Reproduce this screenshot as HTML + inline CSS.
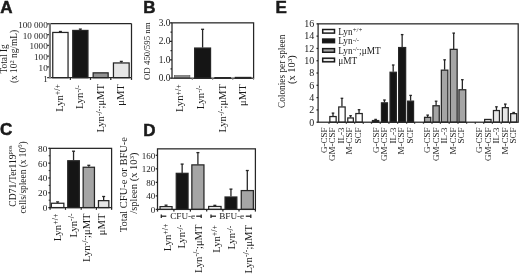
<!DOCTYPE html>
<html><head><meta charset="utf-8"><style>
html,body{margin:0;padding:0;background:#fff;width:520px;height:276px;overflow:hidden}
svg{display:block;filter:blur(0.35px)}
text{fill:#1a1a1a;stroke:#1a1a1a;stroke-width:0px}
</style></head><body>
<svg width="520" height="276" viewBox="0 0 520 276">
<text x="0.30" y="13.10" font-family='"Liberation Sans", sans-serif' font-size="17" font-weight="bold" text-anchor="start" style="stroke-width:0.5px">A</text>
<text x="143.20" y="13.10" font-family='"Liberation Sans", sans-serif' font-size="17" font-weight="bold" text-anchor="start" style="stroke-width:0.5px">B</text>
<text x="275.60" y="13.10" font-family='"Liberation Sans", sans-serif' font-size="17" font-weight="bold" text-anchor="start" style="stroke-width:0.5px">E</text>
<text x="0.00" y="135.20" font-family='"Liberation Sans", sans-serif' font-size="17" font-weight="bold" text-anchor="start" style="stroke-width:0.5px">C</text>
<text x="143.20" y="135.60" font-family='"Liberation Sans", sans-serif' font-size="17" font-weight="bold" text-anchor="start" style="stroke-width:0.5px">D</text>
<rect x="52.75" y="32.45" width="15.30" height="45.25" fill="#ffffff" stroke="#262626" stroke-width="1.25"/>
<line x1="60.40" y1="32.00" x2="60.40" y2="31.50" stroke="#262626" stroke-width="1.3"/>
<line x1="58.90" y1="31.50" x2="61.90" y2="31.50" stroke="#262626" stroke-width="1.3"/>
<rect x="72.75" y="30.45" width="15.20" height="47.25" fill="#151515" stroke="#262626" stroke-width="1.25"/>
<line x1="80.35" y1="30.00" x2="80.35" y2="29.10" stroke="#262626" stroke-width="1.3"/>
<line x1="78.85" y1="29.10" x2="81.85" y2="29.10" stroke="#262626" stroke-width="1.3"/>
<rect x="93.15" y="72.85" width="15.00" height="4.85" fill="#929292" stroke="#262626" stroke-width="1.25"/>
<rect x="113.45" y="62.95" width="15.70" height="14.75" fill="#e6e6e6" stroke="#262626" stroke-width="1.25"/>
<line x1="121.30" y1="62.50" x2="121.30" y2="61.40" stroke="#262626" stroke-width="1.3"/>
<line x1="119.80" y1="61.40" x2="122.80" y2="61.40" stroke="#262626" stroke-width="1.3"/>
<line x1="48.90" y1="23.55" x2="131.50" y2="23.55" stroke="#262626" stroke-width="1.25"/>
<line x1="131.50" y1="23.55" x2="131.50" y2="77.70" stroke="#262626" stroke-width="1.25"/>
<line x1="48.90" y1="77.70" x2="131.50" y2="77.70" stroke="#262626" stroke-width="1.25"/>
<line x1="70.40" y1="77.70" x2="70.40" y2="79.90" stroke="#262626" stroke-width="1.25"/>
<line x1="90.50" y1="77.70" x2="90.50" y2="79.90" stroke="#262626" stroke-width="1.25"/>
<line x1="110.80" y1="77.70" x2="110.80" y2="79.90" stroke="#262626" stroke-width="1.25"/>
<line x1="131.50" y1="77.70" x2="131.50" y2="79.90" stroke="#262626" stroke-width="1.25"/>
<line x1="49.95" y1="22.95" x2="49.95" y2="78.30" stroke="#7a7a7a" stroke-width="2.1"/>
<line x1="47.20" y1="77.60" x2="48.90" y2="77.60" stroke="#262626" stroke-width="1.25"/>
<text x="47.70" y="81.60" font-family='"Liberation Serif", serif' font-size="9.1" font-weight="normal" text-anchor="end">1</text>
<line x1="47.20" y1="66.84" x2="48.90" y2="66.84" stroke="#262626" stroke-width="1.25"/>
<text x="47.70" y="70.84" font-family='"Liberation Serif", serif' font-size="9.1" font-weight="normal" text-anchor="end">10</text>
<line x1="47.20" y1="56.08" x2="48.90" y2="56.08" stroke="#262626" stroke-width="1.25"/>
<text x="47.70" y="60.08" font-family='"Liberation Serif", serif' font-size="9.1" font-weight="normal" text-anchor="end">100</text>
<line x1="47.20" y1="45.32" x2="48.90" y2="45.32" stroke="#262626" stroke-width="1.25"/>
<text x="47.70" y="49.32" font-family='"Liberation Serif", serif' font-size="9.1" font-weight="normal" text-anchor="end">1000</text>
<line x1="47.20" y1="34.56" x2="48.90" y2="34.56" stroke="#262626" stroke-width="1.25"/>
<text x="47.70" y="38.56" font-family='"Liberation Serif", serif' font-size="9.1" font-weight="normal" text-anchor="end">10 000</text>
<line x1="47.20" y1="23.80" x2="48.90" y2="23.80" stroke="#262626" stroke-width="1.25"/>
<text x="47.70" y="27.80" font-family='"Liberation Serif", serif' font-size="9.1" font-weight="normal" text-anchor="end">100 000</text>
<text x="7.20" y="58.90" font-family='"Liberation Serif", serif' font-size="9.3" font-weight="normal" text-anchor="middle" transform="rotate(-90 7.20 58.90)">Total Ig</text>
<text x="17.20" y="56.50" font-family='"Liberation Serif", serif' font-size="9.4" font-weight="normal" text-anchor="middle" transform="rotate(-90 17.20 56.50)">(x 10<tspan font-size="6.5" dy="-3.2">2</tspan><tspan dy="3.2"> ng/mL)</tspan></text>
<text x="62.80" y="84.00" font-family='"Liberation Serif", serif' font-size="10.6" font-weight="normal" text-anchor="end" transform="rotate(-90 62.80 84.00)">Lyn<tspan font-size="8.0" dy="-2.6">+/+</tspan></text>
<text x="83.20" y="85.00" font-family='"Liberation Serif", serif' font-size="10.6" font-weight="normal" text-anchor="end" transform="rotate(-90 83.20 85.00)">Lyn<tspan font-size="8.0" dy="-2.6">-/-</tspan></text>
<text x="104.20" y="84.00" font-family='"Liberation Serif", serif' font-size="10.6" font-weight="normal" text-anchor="end" transform="rotate(-90 104.20 84.00)">Lyn<tspan font-size="8.0" dy="-2.6">-/-</tspan><tspan dy="2.6">;μMT</tspan></text>
<text x="124.20" y="84.20" font-family='"Liberation Serif", serif' font-size="10.6" font-weight="normal" text-anchor="end" transform="rotate(-90 124.20 84.20)">μMT</text>
<rect x="174.3" y="75.6" width="15.6" height="2.4" fill="#8c8c8c" stroke="#555" stroke-width="0.6"/>
<rect x="194.65" y="48.05" width="15.90" height="30.15" fill="#151515" stroke="#262626" stroke-width="1.25"/>
<line x1="202.60" y1="47.60" x2="202.60" y2="29.30" stroke="#262626" stroke-width="1.3"/>
<line x1="201.10" y1="29.30" x2="204.10" y2="29.30" stroke="#262626" stroke-width="1.3"/>
<rect x="214.95" y="77.65" width="15.40" height="0.55" fill="#c8c8c8" stroke="#262626" stroke-width="1.25"/>
<rect x="235.35" y="77.45" width="15.50" height="0.75" fill="#c8c8c8" stroke="#262626" stroke-width="1.25"/>
<rect x="172.00" y="22.85" width="81.60" height="55.35" fill="none" stroke="#262626" stroke-width="1.25"/>
<line x1="192.30" y1="78.20" x2="192.30" y2="80.00" stroke="#888" stroke-width="1.0"/>
<line x1="212.70" y1="78.20" x2="212.70" y2="80.00" stroke="#888" stroke-width="1.0"/>
<line x1="232.80" y1="78.20" x2="232.80" y2="80.00" stroke="#888" stroke-width="1.0"/>
<line x1="253.60" y1="78.20" x2="253.60" y2="80.00" stroke="#888" stroke-width="1.0"/>
<line x1="170.00" y1="78.20" x2="172.00" y2="78.20" stroke="#262626" stroke-width="1.25"/>
<text x="170.40" y="81.30" font-family='"Liberation Serif", serif' font-size="9.4" font-weight="normal" text-anchor="end">0.0</text>
<line x1="170.50" y1="68.98" x2="172.00" y2="68.98" stroke="#262626" stroke-width="1.25"/>
<line x1="170.00" y1="59.75" x2="172.00" y2="59.75" stroke="#262626" stroke-width="1.25"/>
<text x="170.40" y="62.85" font-family='"Liberation Serif", serif' font-size="9.4" font-weight="normal" text-anchor="end">1.0</text>
<line x1="170.50" y1="50.52" x2="172.00" y2="50.52" stroke="#262626" stroke-width="1.25"/>
<line x1="170.00" y1="41.30" x2="172.00" y2="41.30" stroke="#262626" stroke-width="1.25"/>
<text x="170.40" y="44.40" font-family='"Liberation Serif", serif' font-size="9.4" font-weight="normal" text-anchor="end">2.0</text>
<line x1="170.50" y1="32.08" x2="172.00" y2="32.08" stroke="#262626" stroke-width="1.25"/>
<line x1="170.00" y1="22.85" x2="172.00" y2="22.85" stroke="#262626" stroke-width="1.25"/>
<text x="170.40" y="25.95" font-family='"Liberation Serif", serif' font-size="9.4" font-weight="normal" text-anchor="end">3.0</text>
<text x="150.50" y="51.20" font-family='"Liberation Serif", serif' font-size="8.9" font-weight="normal" text-anchor="middle" transform="rotate(-90 150.50 51.20)">OD 450/595 nm</text>
<text x="183.40" y="84.30" font-family='"Liberation Serif", serif' font-size="10.6" font-weight="normal" text-anchor="end" transform="rotate(-90 183.40 84.30)">Lyn<tspan font-size="8.0" dy="-2.6">+/+</tspan></text>
<text x="204.30" y="85.30" font-family='"Liberation Serif", serif' font-size="10.6" font-weight="normal" text-anchor="end" transform="rotate(-90 204.30 85.30)">Lyn<tspan font-size="8.0" dy="-2.6">-/-</tspan></text>
<text x="226.20" y="84.00" font-family='"Liberation Serif", serif' font-size="10.6" font-weight="normal" text-anchor="end" transform="rotate(-90 226.20 84.00)">Lyn<tspan font-size="8.0" dy="-2.6">-/-</tspan><tspan dy="2.6">;μMT</tspan></text>
<text x="245.60" y="84.30" font-family='"Liberation Serif", serif' font-size="10.6" font-weight="normal" text-anchor="end" transform="rotate(-90 245.60 84.30)">μMT</text>
<rect x="51.35" y="203.25" width="12.50" height="4.35" fill="#ffffff" stroke="#262626" stroke-width="1.25"/>
<line x1="57.60" y1="202.80" x2="57.60" y2="201.90" stroke="#262626" stroke-width="1.3"/>
<line x1="56.10" y1="201.90" x2="59.10" y2="201.90" stroke="#262626" stroke-width="1.3"/>
<rect x="67.75" y="160.75" width="11.60" height="46.85" fill="#151515" stroke="#262626" stroke-width="1.25"/>
<line x1="73.55" y1="160.30" x2="73.55" y2="151.20" stroke="#262626" stroke-width="1.3"/>
<line x1="72.05" y1="151.20" x2="75.05" y2="151.20" stroke="#262626" stroke-width="1.3"/>
<rect x="83.15" y="167.25" width="11.30" height="40.35" fill="#a5a5a5" stroke="#262626" stroke-width="1.25"/>
<line x1="88.80" y1="166.80" x2="88.80" y2="165.30" stroke="#262626" stroke-width="1.3"/>
<line x1="87.30" y1="165.30" x2="90.30" y2="165.30" stroke="#262626" stroke-width="1.3"/>
<rect x="98.45" y="200.65" width="10.40" height="6.95" fill="#e6e6e6" stroke="#262626" stroke-width="1.25"/>
<line x1="103.65" y1="200.20" x2="103.65" y2="196.50" stroke="#262626" stroke-width="1.3"/>
<line x1="102.15" y1="196.50" x2="105.15" y2="196.50" stroke="#262626" stroke-width="1.3"/>
<rect x="50.10" y="148.35" width="61.50" height="59.25" fill="none" stroke="#262626" stroke-width="1.25"/>
<line x1="50.10" y1="207.60" x2="50.10" y2="209.80" stroke="#262626" stroke-width="1.25"/>
<line x1="65.50" y1="207.60" x2="65.50" y2="209.80" stroke="#262626" stroke-width="1.25"/>
<line x1="81.20" y1="207.60" x2="81.20" y2="209.80" stroke="#262626" stroke-width="1.25"/>
<line x1="96.40" y1="207.60" x2="96.40" y2="209.80" stroke="#262626" stroke-width="1.25"/>
<line x1="111.60" y1="207.60" x2="111.60" y2="209.80" stroke="#262626" stroke-width="1.25"/>
<line x1="48.30" y1="207.60" x2="50.10" y2="207.60" stroke="#262626" stroke-width="1.25"/>
<text x="47.30" y="211.10" font-family='"Liberation Serif", serif' font-size="9.2" font-weight="normal" text-anchor="end">0</text>
<line x1="48.70" y1="200.19" x2="50.10" y2="200.19" stroke="#262626" stroke-width="1.0"/>
<line x1="48.30" y1="192.79" x2="50.10" y2="192.79" stroke="#262626" stroke-width="1.25"/>
<text x="47.30" y="196.29" font-family='"Liberation Serif", serif' font-size="9.2" font-weight="normal" text-anchor="end">20</text>
<line x1="48.70" y1="185.38" x2="50.10" y2="185.38" stroke="#262626" stroke-width="1.0"/>
<line x1="48.30" y1="177.97" x2="50.10" y2="177.97" stroke="#262626" stroke-width="1.25"/>
<text x="47.30" y="181.47" font-family='"Liberation Serif", serif' font-size="9.2" font-weight="normal" text-anchor="end">40</text>
<line x1="48.70" y1="170.57" x2="50.10" y2="170.57" stroke="#262626" stroke-width="1.0"/>
<line x1="48.30" y1="163.16" x2="50.10" y2="163.16" stroke="#262626" stroke-width="1.25"/>
<text x="47.30" y="166.66" font-family='"Liberation Serif", serif' font-size="9.2" font-weight="normal" text-anchor="end">60</text>
<line x1="48.70" y1="155.76" x2="50.10" y2="155.76" stroke="#262626" stroke-width="1.0"/>
<line x1="48.30" y1="148.35" x2="50.10" y2="148.35" stroke="#262626" stroke-width="1.25"/>
<text x="47.30" y="151.85" font-family='"Liberation Serif", serif' font-size="9.2" font-weight="normal" text-anchor="end">80</text>
<text x="15.70" y="176.00" font-family='"Liberation Serif", serif' font-size="9.6" font-weight="normal" text-anchor="middle" transform="rotate(-90 15.70 176.00)">CD71/Ter119<tspan font-size="6.5" dy="-3.2">pos</tspan></text>
<text x="25.60" y="177.40" font-family='"Liberation Serif", serif' font-size="9.4" font-weight="normal" text-anchor="middle" transform="rotate(-90 25.60 177.40)">cells/spleen (x 10<tspan font-size="6.5" dy="-3.2">6</tspan><tspan dy="3.2">)</tspan></text>
<text x="60.80" y="213.60" font-family='"Liberation Serif", serif' font-size="10.6" font-weight="normal" text-anchor="end" transform="rotate(-90 60.80 213.60)">Lyn<tspan font-size="8.0" dy="-2.6">+/+</tspan></text>
<text x="76.90" y="213.40" font-family='"Liberation Serif", serif' font-size="10.6" font-weight="normal" text-anchor="end" transform="rotate(-90 76.90 213.40)">Lyn<tspan font-size="8.0" dy="-2.6">-/-</tspan></text>
<text x="90.40" y="213.40" font-family='"Liberation Serif", serif' font-size="10.6" font-weight="normal" text-anchor="end" transform="rotate(-90 90.40 213.40)">Lyn<tspan font-size="8.0" dy="-2.6">-/-</tspan><tspan dy="2.6">;μMT</tspan></text>
<text x="105.00" y="213.60" font-family='"Liberation Serif", serif' font-size="10.6" font-weight="normal" text-anchor="end" transform="rotate(-90 105.00 213.60)">μMT</text>
<rect x="160.05" y="206.64" width="12.00" height="2.76" fill="#ffffff" stroke="#262626" stroke-width="1.25"/>
<line x1="166.05" y1="206.19" x2="166.05" y2="205.17" stroke="#262626" stroke-width="1.3"/>
<line x1="164.55" y1="205.17" x2="167.55" y2="205.17" stroke="#262626" stroke-width="1.3"/>
<rect x="176.25" y="173.33" width="11.80" height="36.07" fill="#151515" stroke="#262626" stroke-width="1.25"/>
<line x1="182.15" y1="172.88" x2="182.15" y2="164.09" stroke="#262626" stroke-width="1.3"/>
<line x1="180.65" y1="164.09" x2="183.65" y2="164.09" stroke="#262626" stroke-width="1.3"/>
<rect x="191.85" y="164.88" width="12.10" height="44.52" fill="#a5a5a5" stroke="#262626" stroke-width="1.25"/>
<line x1="197.90" y1="164.43" x2="197.90" y2="152.60" stroke="#262626" stroke-width="1.3"/>
<line x1="196.40" y1="152.60" x2="199.40" y2="152.60" stroke="#262626" stroke-width="1.3"/>
<rect x="208.65" y="206.47" width="12.40" height="2.93" fill="#ffffff" stroke="#262626" stroke-width="1.25"/>
<line x1="214.85" y1="206.02" x2="214.85" y2="205.34" stroke="#262626" stroke-width="1.3"/>
<line x1="213.35" y1="205.34" x2="216.35" y2="205.34" stroke="#262626" stroke-width="1.3"/>
<rect x="225.05" y="197.00" width="11.80" height="12.40" fill="#151515" stroke="#262626" stroke-width="1.25"/>
<line x1="230.95" y1="196.55" x2="230.95" y2="189.11" stroke="#262626" stroke-width="1.3"/>
<line x1="229.45" y1="189.11" x2="232.45" y2="189.11" stroke="#262626" stroke-width="1.3"/>
<rect x="241.25" y="190.58" width="12.10" height="18.82" fill="#a5a5a5" stroke="#262626" stroke-width="1.25"/>
<line x1="247.30" y1="190.13" x2="247.30" y2="170.52" stroke="#262626" stroke-width="1.3"/>
<line x1="245.80" y1="170.52" x2="248.80" y2="170.52" stroke="#262626" stroke-width="1.3"/>
<rect x="157.50" y="148.85" width="97.90" height="60.55" fill="none" stroke="#262626" stroke-width="1.25"/>
<line x1="157.50" y1="209.40" x2="157.50" y2="211.60" stroke="#262626" stroke-width="1.25"/>
<line x1="173.90" y1="209.40" x2="173.90" y2="211.60" stroke="#262626" stroke-width="1.25"/>
<line x1="190.40" y1="209.40" x2="190.40" y2="211.60" stroke="#262626" stroke-width="1.25"/>
<line x1="206.70" y1="209.40" x2="206.70" y2="211.60" stroke="#262626" stroke-width="1.25"/>
<line x1="222.90" y1="209.40" x2="222.90" y2="211.60" stroke="#262626" stroke-width="1.25"/>
<line x1="239.00" y1="209.40" x2="239.00" y2="211.60" stroke="#262626" stroke-width="1.25"/>
<line x1="255.40" y1="209.40" x2="255.40" y2="211.60" stroke="#262626" stroke-width="1.25"/>
<line x1="155.70" y1="209.40" x2="157.50" y2="209.40" stroke="#262626" stroke-width="1.25"/>
<text x="155.20" y="212.60" font-family='"Liberation Serif", serif' font-size="9.0" font-weight="normal" text-anchor="end">0</text>
<line x1="155.70" y1="195.88" x2="157.50" y2="195.88" stroke="#262626" stroke-width="1.25"/>
<text x="155.20" y="199.07" font-family='"Liberation Serif", serif' font-size="9.0" font-weight="normal" text-anchor="end">40</text>
<line x1="155.70" y1="182.35" x2="157.50" y2="182.35" stroke="#262626" stroke-width="1.25"/>
<text x="155.20" y="185.55" font-family='"Liberation Serif", serif' font-size="9.0" font-weight="normal" text-anchor="end">80</text>
<line x1="155.70" y1="168.83" x2="157.50" y2="168.83" stroke="#262626" stroke-width="1.25"/>
<text x="155.20" y="172.03" font-family='"Liberation Serif", serif' font-size="9.0" font-weight="normal" text-anchor="end">120</text>
<line x1="155.70" y1="155.30" x2="157.50" y2="155.30" stroke="#262626" stroke-width="1.25"/>
<text x="155.20" y="158.50" font-family='"Liberation Serif", serif' font-size="9.0" font-weight="normal" text-anchor="end">160</text>
<text x="127.00" y="184.60" font-family='"Liberation Serif", serif' font-size="10.5" font-weight="normal" text-anchor="middle" transform="rotate(-90 127.00 184.60)">Total CFU-e or BFU-e</text>
<text x="137.00" y="183.10" font-family='"Liberation Serif", serif' font-size="10.5" font-weight="normal" text-anchor="middle" transform="rotate(-90 137.00 183.10)">/spleen (x 10<tspan font-size="7" dy="-3.2">3</tspan><tspan dy="3.2">)</tspan></text>
<text x="182.70" y="219.20" font-family='"Liberation Serif", serif' font-size="9.2" font-weight="normal" text-anchor="middle">CFU-e</text>
<line x1="161.30" y1="214.50" x2="161.30" y2="217.90" stroke="#262626" stroke-width="1.3"/>
<line x1="201.20" y1="214.50" x2="201.20" y2="217.90" stroke="#262626" stroke-width="1.3"/>
<line x1="161.30" y1="216.20" x2="166.30" y2="216.20" stroke="#262626" stroke-width="1.3"/>
<line x1="196.20" y1="216.20" x2="201.20" y2="216.20" stroke="#262626" stroke-width="1.3"/>
<text x="231.70" y="219.20" font-family='"Liberation Serif", serif' font-size="9.2" font-weight="normal" text-anchor="middle">BFU-e</text>
<line x1="211.00" y1="214.50" x2="211.00" y2="217.90" stroke="#262626" stroke-width="1.3"/>
<line x1="250.80" y1="214.50" x2="250.80" y2="217.90" stroke="#262626" stroke-width="1.3"/>
<line x1="211.00" y1="216.20" x2="216.00" y2="216.20" stroke="#262626" stroke-width="1.3"/>
<line x1="245.80" y1="216.20" x2="250.80" y2="216.20" stroke="#262626" stroke-width="1.3"/>
<text x="170.50" y="223.50" font-family='"Liberation Serif", serif' font-size="10.6" font-weight="normal" text-anchor="end" transform="rotate(-90 170.50 223.50)">Lyn<tspan font-size="8.0" dy="-2.6">+/+</tspan></text>
<text x="185.30" y="224.50" font-family='"Liberation Serif", serif' font-size="10.6" font-weight="normal" text-anchor="end" transform="rotate(-90 185.30 224.50)">Lyn<tspan font-size="8.0" dy="-2.6">-/-</tspan></text>
<text x="201.50" y="224.50" font-family='"Liberation Serif", serif' font-size="10.6" font-weight="normal" text-anchor="end" transform="rotate(-90 201.50 224.50)">Lyn<tspan font-size="8.0" dy="-2.6">-/-</tspan><tspan dy="2.6">;μMT</tspan></text>
<text x="219.50" y="225.00" font-family='"Liberation Serif", serif' font-size="10.6" font-weight="normal" text-anchor="end" transform="rotate(-90 219.50 225.00)">Lyn<tspan font-size="8.0" dy="-2.6">+/+</tspan></text>
<text x="235.30" y="225.50" font-family='"Liberation Serif", serif' font-size="10.6" font-weight="normal" text-anchor="end" transform="rotate(-90 235.30 225.50)">Lyn<tspan font-size="8.0" dy="-2.6">-/-</tspan></text>
<text x="251.50" y="225.00" font-family='"Liberation Serif", serif' font-size="10.6" font-weight="normal" text-anchor="end" transform="rotate(-90 251.50 225.00)">Lyn<tspan font-size="8.0" dy="-2.6">-/-</tspan><tspan dy="2.6">;μMT</tspan></text>
<rect x="329.85" y="116.55" width="6.30" height="5.65" fill="#ffffff" stroke="#262626" stroke-width="1.25"/>
<line x1="333.00" y1="116.10" x2="333.00" y2="113.10" stroke="#262626" stroke-width="1.3"/>
<line x1="331.70" y1="113.10" x2="334.30" y2="113.10" stroke="#262626" stroke-width="1.3"/>
<rect x="338.75" y="106.95" width="6.40" height="15.25" fill="#ffffff" stroke="#262626" stroke-width="1.25"/>
<line x1="341.95" y1="106.50" x2="341.95" y2="98.30" stroke="#262626" stroke-width="1.3"/>
<line x1="340.65" y1="98.30" x2="343.25" y2="98.30" stroke="#262626" stroke-width="1.3"/>
<rect x="347.75" y="117.95" width="5.60" height="4.25" fill="#ffffff" stroke="#262626" stroke-width="1.25"/>
<line x1="350.55" y1="117.50" x2="350.55" y2="115.70" stroke="#262626" stroke-width="1.3"/>
<line x1="349.25" y1="115.70" x2="351.85" y2="115.70" stroke="#262626" stroke-width="1.3"/>
<rect x="355.85" y="113.55" width="6.40" height="8.65" fill="#ffffff" stroke="#262626" stroke-width="1.25"/>
<line x1="359.05" y1="113.10" x2="359.05" y2="109.70" stroke="#262626" stroke-width="1.3"/>
<line x1="357.75" y1="109.70" x2="360.35" y2="109.70" stroke="#262626" stroke-width="1.3"/>
<rect x="372.45" y="120.55" width="6.30" height="1.65" fill="#151515" stroke="#262626" stroke-width="1.25"/>
<line x1="375.60" y1="120.10" x2="375.60" y2="119.40" stroke="#262626" stroke-width="1.3"/>
<line x1="374.30" y1="119.40" x2="376.90" y2="119.40" stroke="#262626" stroke-width="1.3"/>
<rect x="381.45" y="102.85" width="6.00" height="19.35" fill="#151515" stroke="#262626" stroke-width="1.25"/>
<line x1="384.45" y1="102.40" x2="384.45" y2="100.00" stroke="#262626" stroke-width="1.3"/>
<line x1="383.15" y1="100.00" x2="385.75" y2="100.00" stroke="#262626" stroke-width="1.3"/>
<rect x="390.05" y="72.25" width="6.30" height="49.95" fill="#151515" stroke="#262626" stroke-width="1.25"/>
<line x1="393.20" y1="71.80" x2="393.20" y2="65.00" stroke="#262626" stroke-width="1.3"/>
<line x1="391.90" y1="65.00" x2="394.50" y2="65.00" stroke="#262626" stroke-width="1.3"/>
<rect x="398.65" y="47.55" width="7.00" height="74.65" fill="#151515" stroke="#262626" stroke-width="1.25"/>
<line x1="402.15" y1="47.10" x2="402.15" y2="34.60" stroke="#262626" stroke-width="1.3"/>
<line x1="400.85" y1="34.60" x2="403.45" y2="34.60" stroke="#262626" stroke-width="1.3"/>
<rect x="407.65" y="101.15" width="5.90" height="21.05" fill="#151515" stroke="#262626" stroke-width="1.25"/>
<line x1="410.60" y1="100.70" x2="410.60" y2="95.40" stroke="#262626" stroke-width="1.3"/>
<line x1="409.30" y1="95.40" x2="411.90" y2="95.40" stroke="#262626" stroke-width="1.3"/>
<rect x="424.55" y="117.35" width="6.20" height="4.85" fill="#a5a5a5" stroke="#262626" stroke-width="1.25"/>
<line x1="427.65" y1="116.90" x2="427.65" y2="115.10" stroke="#262626" stroke-width="1.3"/>
<line x1="426.35" y1="115.10" x2="428.95" y2="115.10" stroke="#262626" stroke-width="1.3"/>
<rect x="432.95" y="105.75" width="6.30" height="16.45" fill="#a5a5a5" stroke="#262626" stroke-width="1.25"/>
<line x1="436.10" y1="105.30" x2="436.10" y2="101.20" stroke="#262626" stroke-width="1.3"/>
<line x1="434.80" y1="101.20" x2="437.40" y2="101.20" stroke="#262626" stroke-width="1.3"/>
<rect x="441.35" y="70.15" width="6.50" height="52.05" fill="#a5a5a5" stroke="#262626" stroke-width="1.25"/>
<line x1="444.60" y1="69.70" x2="444.60" y2="59.80" stroke="#262626" stroke-width="1.3"/>
<line x1="443.30" y1="59.80" x2="445.90" y2="59.80" stroke="#262626" stroke-width="1.3"/>
<rect x="450.25" y="49.35" width="6.90" height="72.85" fill="#a5a5a5" stroke="#262626" stroke-width="1.25"/>
<line x1="453.70" y1="48.90" x2="453.70" y2="33.10" stroke="#262626" stroke-width="1.3"/>
<line x1="452.40" y1="33.10" x2="455.00" y2="33.10" stroke="#262626" stroke-width="1.3"/>
<rect x="458.95" y="89.75" width="6.80" height="32.45" fill="#a5a5a5" stroke="#262626" stroke-width="1.25"/>
<line x1="462.35" y1="89.30" x2="462.35" y2="79.70" stroke="#262626" stroke-width="1.3"/>
<line x1="461.05" y1="79.70" x2="463.65" y2="79.70" stroke="#262626" stroke-width="1.3"/>
<rect x="484.65" y="119.45" width="6.40" height="2.75" fill="#e6e6e6" stroke="#262626" stroke-width="1.25"/>
<rect x="493.45" y="110.55" width="6.00" height="11.65" fill="#e6e6e6" stroke="#262626" stroke-width="1.25"/>
<line x1="496.45" y1="110.10" x2="496.45" y2="106.80" stroke="#262626" stroke-width="1.3"/>
<line x1="495.15" y1="106.80" x2="497.75" y2="106.80" stroke="#262626" stroke-width="1.3"/>
<rect x="502.35" y="107.65" width="5.90" height="14.55" fill="#e6e6e6" stroke="#262626" stroke-width="1.25"/>
<line x1="505.30" y1="107.20" x2="505.30" y2="104.10" stroke="#262626" stroke-width="1.3"/>
<line x1="504.00" y1="104.10" x2="506.60" y2="104.10" stroke="#262626" stroke-width="1.3"/>
<rect x="510.65" y="113.65" width="6.00" height="8.55" fill="#e6e6e6" stroke="#262626" stroke-width="1.25"/>
<line x1="513.65" y1="113.20" x2="513.65" y2="112.50" stroke="#262626" stroke-width="1.3"/>
<line x1="512.35" y1="112.50" x2="514.95" y2="112.50" stroke="#262626" stroke-width="1.3"/>
<line x1="329.00" y1="122.20" x2="329.00" y2="123.70" stroke="#262626" stroke-width="1.25"/>
<line x1="337.40" y1="122.20" x2="337.40" y2="123.70" stroke="#262626" stroke-width="1.25"/>
<line x1="346.40" y1="122.20" x2="346.40" y2="123.70" stroke="#262626" stroke-width="1.25"/>
<line x1="354.60" y1="122.20" x2="354.60" y2="123.70" stroke="#262626" stroke-width="1.25"/>
<line x1="363.30" y1="122.20" x2="363.30" y2="123.70" stroke="#262626" stroke-width="1.25"/>
<line x1="371.50" y1="122.20" x2="371.50" y2="123.70" stroke="#262626" stroke-width="1.25"/>
<line x1="380.30" y1="122.20" x2="380.30" y2="123.70" stroke="#262626" stroke-width="1.25"/>
<line x1="388.90" y1="122.20" x2="388.90" y2="123.70" stroke="#262626" stroke-width="1.25"/>
<line x1="397.60" y1="122.20" x2="397.60" y2="123.70" stroke="#262626" stroke-width="1.25"/>
<line x1="406.60" y1="122.20" x2="406.60" y2="123.70" stroke="#262626" stroke-width="1.25"/>
<line x1="414.60" y1="122.20" x2="414.60" y2="123.70" stroke="#262626" stroke-width="1.25"/>
<line x1="423.50" y1="122.20" x2="423.50" y2="123.70" stroke="#262626" stroke-width="1.25"/>
<line x1="432.00" y1="122.20" x2="432.00" y2="123.70" stroke="#262626" stroke-width="1.25"/>
<line x1="440.40" y1="122.20" x2="440.40" y2="123.70" stroke="#262626" stroke-width="1.25"/>
<line x1="449.20" y1="122.20" x2="449.20" y2="123.70" stroke="#262626" stroke-width="1.25"/>
<line x1="458.00" y1="122.20" x2="458.00" y2="123.70" stroke="#262626" stroke-width="1.25"/>
<line x1="466.60" y1="122.20" x2="466.60" y2="123.70" stroke="#262626" stroke-width="1.25"/>
<line x1="475.30" y1="122.20" x2="475.30" y2="123.70" stroke="#262626" stroke-width="1.25"/>
<line x1="483.70" y1="122.20" x2="483.70" y2="123.70" stroke="#262626" stroke-width="1.25"/>
<line x1="492.40" y1="122.20" x2="492.40" y2="123.70" stroke="#262626" stroke-width="1.25"/>
<line x1="501.20" y1="122.20" x2="501.20" y2="123.70" stroke="#262626" stroke-width="1.25"/>
<line x1="509.60" y1="122.20" x2="509.60" y2="123.70" stroke="#262626" stroke-width="1.25"/>
<rect x="318.10" y="23.85" width="200.10" height="98.35" fill="none" stroke="#262626" stroke-width="1.25"/>
<line x1="316.50" y1="122.20" x2="318.10" y2="122.20" stroke="#262626" stroke-width="1.25"/>
<text x="314.30" y="125.50" font-family='"Liberation Serif", serif' font-size="10" font-weight="normal" text-anchor="end">0</text>
<line x1="316.50" y1="109.91" x2="318.10" y2="109.91" stroke="#262626" stroke-width="1.25"/>
<text x="314.30" y="113.21" font-family='"Liberation Serif", serif' font-size="10" font-weight="normal" text-anchor="end">2</text>
<line x1="316.50" y1="97.61" x2="318.10" y2="97.61" stroke="#262626" stroke-width="1.25"/>
<text x="314.30" y="100.91" font-family='"Liberation Serif", serif' font-size="10" font-weight="normal" text-anchor="end">4</text>
<line x1="316.50" y1="85.32" x2="318.10" y2="85.32" stroke="#262626" stroke-width="1.25"/>
<text x="314.30" y="88.62" font-family='"Liberation Serif", serif' font-size="10" font-weight="normal" text-anchor="end">6</text>
<line x1="316.50" y1="73.03" x2="318.10" y2="73.03" stroke="#262626" stroke-width="1.25"/>
<text x="314.30" y="76.33" font-family='"Liberation Serif", serif' font-size="10" font-weight="normal" text-anchor="end">8</text>
<line x1="316.50" y1="60.73" x2="318.10" y2="60.73" stroke="#262626" stroke-width="1.25"/>
<text x="314.30" y="64.03" font-family='"Liberation Serif", serif' font-size="10" font-weight="normal" text-anchor="end">10</text>
<line x1="316.50" y1="48.44" x2="318.10" y2="48.44" stroke="#262626" stroke-width="1.25"/>
<text x="314.30" y="51.74" font-family='"Liberation Serif", serif' font-size="10" font-weight="normal" text-anchor="end">12</text>
<line x1="316.50" y1="36.14" x2="318.10" y2="36.14" stroke="#262626" stroke-width="1.25"/>
<text x="314.30" y="39.44" font-family='"Liberation Serif", serif' font-size="10" font-weight="normal" text-anchor="end">14</text>
<line x1="316.50" y1="23.85" x2="318.10" y2="23.85" stroke="#262626" stroke-width="1.25"/>
<text x="314.30" y="27.15" font-family='"Liberation Serif", serif' font-size="10" font-weight="normal" text-anchor="end">16</text>
<text x="284.80" y="71.30" font-family='"Liberation Serif", serif' font-size="9.3" font-weight="normal" text-anchor="middle" transform="rotate(-90 284.80 71.30)">Colonies per spleen</text>
<text x="295.00" y="69.60" font-family='"Liberation Serif", serif' font-size="10.4" font-weight="normal" text-anchor="middle" transform="rotate(-90 295.00 69.60)">(x 10<tspan font-size="7" dy="-3.2">3</tspan><tspan dy="3.2">)</tspan></text>
<rect x="322.7" y="29.50" width="11.8" height="3.6" fill="#ffffff" stroke="#1a1a1a" stroke-width="1.5"/>
<text x="338.20" y="34.80" font-family='"Liberation Serif", serif' font-size="9.3" font-weight="normal" text-anchor="start">Lyn<tspan font-size="6.8" dy="-2.6">+/+</tspan></text>
<rect x="322.7" y="39.07" width="11.8" height="3.6" fill="#151515" stroke="#1a1a1a" stroke-width="1.5"/>
<text x="338.20" y="44.37" font-family='"Liberation Serif", serif' font-size="9.3" font-weight="normal" text-anchor="start">Lyn<tspan font-size="6.8" dy="-2.6">-/-</tspan></text>
<rect x="322.7" y="48.64" width="11.8" height="3.6" fill="#a5a5a5" stroke="#1a1a1a" stroke-width="1.5"/>
<text x="338.20" y="53.94" font-family='"Liberation Serif", serif' font-size="9.3" font-weight="normal" text-anchor="start">Lyn<tspan font-size="6.8" dy="-2.6">-/-</tspan><tspan dy="2.6">;μMT</tspan></text>
<rect x="322.7" y="58.21" width="11.8" height="3.6" fill="#e6e6e6" stroke="#1a1a1a" stroke-width="1.5"/>
<text x="338.20" y="63.51" font-family='"Liberation Serif", serif' font-size="9.3" font-weight="normal" text-anchor="start">μMT</text>
<text x="327.00" y="127.40" font-family='"Liberation Serif", serif' font-size="9" font-weight="normal" text-anchor="end" transform="rotate(-90 327.00 127.40)">G-CSF</text>
<text x="335.45" y="127.40" font-family='"Liberation Serif", serif' font-size="9" font-weight="normal" text-anchor="end" transform="rotate(-90 335.45 127.40)">GM-CSF</text>
<text x="343.90" y="127.40" font-family='"Liberation Serif", serif' font-size="9" font-weight="normal" text-anchor="end" transform="rotate(-90 343.90 127.40)">IL-3</text>
<text x="352.35" y="127.40" font-family='"Liberation Serif", serif' font-size="9" font-weight="normal" text-anchor="end" transform="rotate(-90 352.35 127.40)">M-CSF</text>
<text x="360.80" y="127.40" font-family='"Liberation Serif", serif' font-size="9" font-weight="normal" text-anchor="end" transform="rotate(-90 360.80 127.40)">SCF</text>
<text x="378.75" y="127.40" font-family='"Liberation Serif", serif' font-size="9" font-weight="normal" text-anchor="end" transform="rotate(-90 378.75 127.40)">G-CSF</text>
<text x="387.20" y="127.40" font-family='"Liberation Serif", serif' font-size="9" font-weight="normal" text-anchor="end" transform="rotate(-90 387.20 127.40)">GM-CSF</text>
<text x="395.65" y="127.40" font-family='"Liberation Serif", serif' font-size="9" font-weight="normal" text-anchor="end" transform="rotate(-90 395.65 127.40)">IL-3</text>
<text x="404.10" y="127.40" font-family='"Liberation Serif", serif' font-size="9" font-weight="normal" text-anchor="end" transform="rotate(-90 404.10 127.40)">M-CSF</text>
<text x="412.55" y="127.40" font-family='"Liberation Serif", serif' font-size="9" font-weight="normal" text-anchor="end" transform="rotate(-90 412.55 127.40)">SCF</text>
<text x="430.50" y="127.40" font-family='"Liberation Serif", serif' font-size="9" font-weight="normal" text-anchor="end" transform="rotate(-90 430.50 127.40)">G-CSF</text>
<text x="438.95" y="127.40" font-family='"Liberation Serif", serif' font-size="9" font-weight="normal" text-anchor="end" transform="rotate(-90 438.95 127.40)">GM-CSF</text>
<text x="447.40" y="127.40" font-family='"Liberation Serif", serif' font-size="9" font-weight="normal" text-anchor="end" transform="rotate(-90 447.40 127.40)">IL-3</text>
<text x="455.85" y="127.40" font-family='"Liberation Serif", serif' font-size="9" font-weight="normal" text-anchor="end" transform="rotate(-90 455.85 127.40)">M-CSF</text>
<text x="464.30" y="127.40" font-family='"Liberation Serif", serif' font-size="9" font-weight="normal" text-anchor="end" transform="rotate(-90 464.30 127.40)">SCF</text>
<text x="482.25" y="127.40" font-family='"Liberation Serif", serif' font-size="9" font-weight="normal" text-anchor="end" transform="rotate(-90 482.25 127.40)">G-CSF</text>
<text x="490.70" y="127.40" font-family='"Liberation Serif", serif' font-size="9" font-weight="normal" text-anchor="end" transform="rotate(-90 490.70 127.40)">GM-CSF</text>
<text x="499.15" y="127.40" font-family='"Liberation Serif", serif' font-size="9" font-weight="normal" text-anchor="end" transform="rotate(-90 499.15 127.40)">IL-3</text>
<text x="507.60" y="127.40" font-family='"Liberation Serif", serif' font-size="9" font-weight="normal" text-anchor="end" transform="rotate(-90 507.60 127.40)">M-CSF</text>
<text x="516.05" y="127.40" font-family='"Liberation Serif", serif' font-size="9" font-weight="normal" text-anchor="end" transform="rotate(-90 516.05 127.40)">SCF</text>
</svg>
</body></html>
